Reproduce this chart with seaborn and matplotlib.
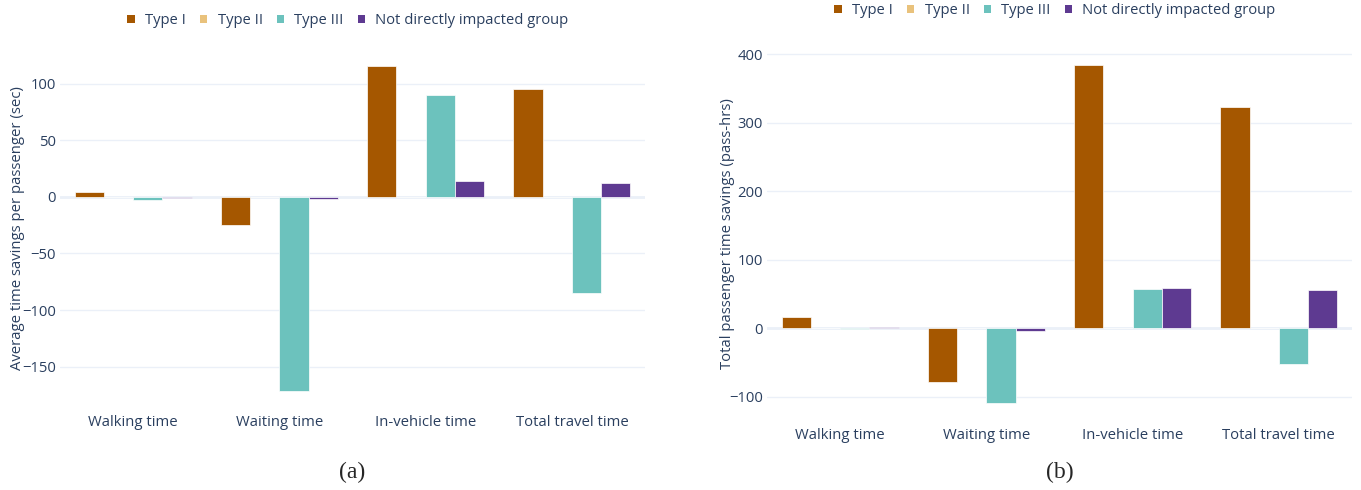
import pandas as pd
import matplotlib
matplotlib.use('Agg')
import matplotlib.pyplot as plt
import seaborn as sns
from matplotlib.patches import Patch

# categories and groups
components = ['Walking time', 'Waiting time', 'In-vehicle time', 'Total travel time']
groups = ['Type I', 'Type II', 'Type III', 'Not directly impacted group']
palette = ['#A55700', '#E9C27C', '#6CC2BD', '#5E3A91']

# (a) average time savings per passenger (sec)
avg_type1 = [4.5, -25, 116, 95.5]
avg_type2 = [0, 0, 0, 0]
avg_type3 = [-3, -172, 90, -85]
avg_notdir = [-0.5, -1.5, 14, 12.5]

# (b) total passenger time savings (pass-hrs)
tot_type1 = [15.5, -79, 384, 322]
tot_type2 = [0, 0, 0, 0]
tot_type3 = [-1.5, -109, 57, -53]
tot_notdir = [2, -4, 58, 56]


def to_long(series):
    rows = []
    for g, vals in zip(groups, series):
        for c, v in zip(components, vals):
            rows.append({'component': c, 'group': g, 'value': v})
    return pd.DataFrame(rows)


df_avg = to_long([avg_type1, avg_type2, avg_type3, avg_notdir])
df_tot = to_long([tot_type1, tot_type2, tot_type3, tot_notdir])

sns.set_style('white')
plt.rcParams['font.family'] = ['Open Sans', 'DejaVu Sans']
text_color = '#2a3f5f'
grid_color = '#EBF0F8'

W, H = 1361, 490
fig = plt.figure(figsize=(W / 100, H / 100), dpi=100)


def px_axes(x0, x1, y0, y1):
    return fig.add_axes([x0 / W, 1 - y1 / H, (x1 - x0) / W, (y1 - y0) / H])


def draw(ax, df, ylim, yticks, ylabel, label_x):
    sns.barplot(data=df, x='component', y='value', hue='group', hue_order=groups,
                palette=palette, order=components, width=0.8, saturation=1, ax=ax,
                edgecolor='white', linewidth=0.5, errorbar=None, legend=False)
    ax.set_xlim(-0.5, 3.5)
    ax.set_ylim(*ylim)
    ax.set_yticks(yticks)
    ax.set_yticklabels(['\u2212' + str(-t) if t < 0 else str(t) for t in yticks])
    ax.set_axisbelow(True)
    ax.grid(axis='y', color=grid_color, linewidth=1)
    ax.axhline(0, color=grid_color, linewidth=2, zorder=0.8)
    for s in ax.spines.values():
        s.set_visible(False)
    ax.tick_params(length=0, labelsize=10.7, colors=text_color)
    ax.tick_params(axis='x', pad=6)
    ax.tick_params(axis='y', pad=3)
    ax.set_xlabel('')
    ax.set_ylabel(ylabel, fontsize=10.7, color=text_color)
    # place the y label in figure pixels
    bb = ax.get_position()
    ax.yaxis.set_label_coords((label_x / W - bb.x0) / bb.width, 0.5)


ax1 = px_axes(60, 645, 50, 407)
draw(ax1, df_avg, (-185.8, 130), [-150, -100, -50, 0, 50, 100],
     'Average time savings per passenger (sec)', 25)

ax2 = px_axes(767, 1352, 48, 420)
draw(ax2, df_tot, (-134.3, 408.8), [-100, 0, 100, 200, 300, 400],
     'Total passenger time savings (pass-hrs)', 735)

handles = [Patch(facecolor=c, edgecolor='none') for c in palette]
leg_kw = dict(ncol=4, frameon=False, fontsize=10.6, handlelength=0.5, handleheight=0.5,
              handletextpad=0.7, columnspacing=0.95, loc='center', labelcolor=text_color)
fig.legend(handles, groups, bbox_to_anchor=(348 / W, 1 - 21 / H), **leg_kw)
fig.legend(handles, groups, bbox_to_anchor=(1055 / W, 1 - 11 / H), **leg_kw)

serif = ['Liberation Serif', 'DejaVu Serif']
fig.text(352 / W, 1 - 472 / H, '(a)', ha='center', va='center', fontsize=17, family=serif)
fig.text(1060 / W, 1 - 472 / H, '(b)', ha='center', va='center', fontsize=17, family=serif)

fig.savefig('out.png', dpi=100, facecolor='white')
